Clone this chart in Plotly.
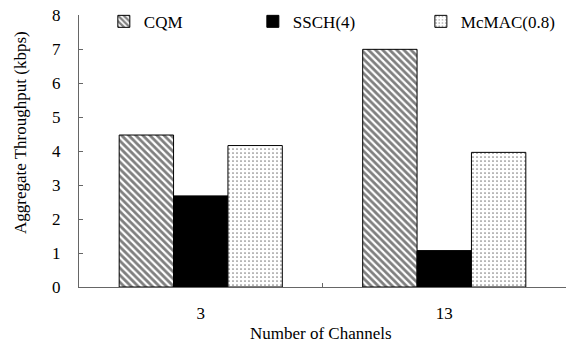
import plotly.graph_objects as go

categories = ["3", "13"]
series_names = ["CQM", "SSCH(4)", "McMAC(0.8)"]
cqm = [4.47, 6.99]
ssch = [2.68, 1.07]
mcmac = [4.16, 3.96]
y_ticks = [0, 1, 2, 3, 4, 5, 6, 7, 8]

FONT = "Liberation Serif"
FS = 17

fig = go.Figure()
fig.add_trace(go.Bar(
    x=categories, y=cqm, name=series_names[0], legend="legend",
    marker=dict(color="white", line=dict(color="black", width=1),
                pattern=dict(shape="\\", fgcolor="black", bgcolor="white", size=5, solidity=0.55)),
))
fig.add_trace(go.Bar(
    x=categories, y=ssch, name=series_names[1], legend="legend2",
    marker=dict(color="black", line=dict(color="black", width=1)),
))
fig.add_trace(go.Bar(
    x=categories, y=mcmac, name=series_names[2], legend="legend3",
    marker=dict(color="white", line=dict(color="black", width=1),
                pattern=dict(shape=".", fgcolor="black", bgcolor="white", size=4, solidity=0.14)),
))

leg_common = dict(orientation="h", yanchor="middle", y=0.975, xanchor="left",
                  font=dict(family=FONT, size=FS, color="black"),
                  bgcolor="rgba(0,0,0,0)", itemwidth=30)
fig.update_layout(
    width=566, height=345,
    margin=dict(l=79, r=0, t=15, b=58),
    plot_bgcolor="white", paper_bgcolor="white",
    showlegend=True,
    barmode="group", bargap=0.33, bargroupgap=0,
    font=dict(family=FONT, size=FS, color="black"),
    legend=dict(x=0.051, **leg_common),
    legend2=dict(x=0.357, **leg_common),
    legend3=dict(x=0.702, **leg_common),
    xaxis=dict(
        type="category", categoryorder="array", categoryarray=categories,
        showline=True, linecolor="#666", linewidth=1,
        ticks="inside", tickson="boundaries", ticklen=4, tickcolor="#666",
        ticklabelstandoff=11, showgrid=False,
        tickfont=dict(family=FONT, size=FS),
    ),
    yaxis=dict(
        range=[0, 8], tickvals=y_ticks, showline=True, linecolor="#666", linewidth=1,
        ticks="inside", ticklen=4, tickcolor="#666", showgrid=False, zeroline=False,
        ticklabelstandoff=14, tickfont=dict(family=FONT, size=FS),
    ),
    annotations=[
        dict(text="Aggregate Throughput (kbps)", xref="paper", yref="paper",
             x=0, xshift=-59, y=(287 - 133) / 272, textangle=-90, showarrow=False,
             xanchor="center", yanchor="middle", font=dict(family=FONT, size=FS)),
        dict(text="Number of Channels", xref="paper", yref="paper",
             x=(321 - 79) / 487, y=0, yshift=-46, showarrow=False,
             xanchor="center", yanchor="middle", font=dict(family=FONT, size=FS)),
    ],
)

fig.write_html("out.html")
